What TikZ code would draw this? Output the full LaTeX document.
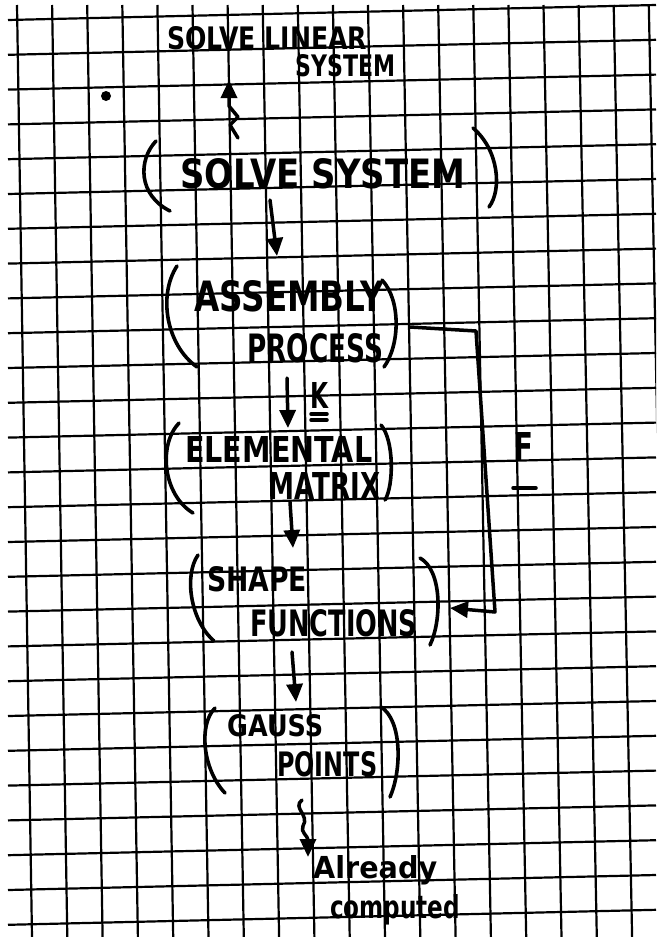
\documentclass[tikz,border=0pt]{standalone}
\usepackage{fontspec}
\setmainfont{DejaVu Sans}
\usetikzlibrary{arrows.meta}
\newcommand{\hw}[3]{\resizebox{#1pt}{#2pt}{\bfseries #3}}
\begin{document}
\begin{tikzpicture}[x=1pt,y=-1pt,
  gridline/.style={line width=2.2pt, black},
  pen/.style={line width=3.5pt, line cap=round, line join=round},
  paren/.style={line width=3.6pt, line cap=round},
  arr/.style={pen, -{Triangle[length=18pt,width=16pt]}},
  lbl/.style={inner sep=0pt, anchor=south west}]
\useasboundingbox (0,0) rectangle (656,937);
\fill[white] (0,0) rectangle (656,937);
% grid paper
\begin{scope}
\clip (0,0) rectangle (656,937);
\foreach \k in {0,...,27} \draw[gridline] (8,{20+34.8*\k}) -- (656,{5+34.8*\k});
\foreach \j in {0,...,18} \draw[gridline] ({17+35.1*\j},5) -- ({32+35.3*\j},937);
\end{scope}
% stray dot
\fill (106,96) circle (5);
% labels
\node[lbl] (lin1) at (167,50) {\hw{200}{23}{SOLVE LINEAR}};
\node[lbl] (lin2) at (295,77) {\hw{100}{22}{SYSTEM}};
\node[lbl] (ss) at (180,189) {\hw{285}{30}{SOLVE SYSTEM}};
\node[lbl] (ap1) at (194,312) {\hw{190}{31}{ASSEMBLY}};
\node[lbl] (ap2) at (247,363) {\hw{136}{29}{PROCESS}};
\node[lbl] (em1) at (185,463) {\hw{187}{26}{ELEMENTAL}};
\node[lbl] (em2) at (268,500) {\hw{112}{27}{MATRIX}};
\node[lbl] (sf1) at (207,592) {\hw{100}{25}{SHAPE}};
\node[lbl] (sf2) at (250,637) {\hw{167}{27}{FUNCTIONS}};
\node[lbl] (gp1) at (227,737) {\hw{96}{22}{GAUSS}};
\node[lbl] (gp2) at (277,777) {\hw{100}{25}{POINTS}};
\node[lbl] (ac1) at (313,885) {\hw{124}{23}{Already}};
\node[lbl] (ac2) at (330,925) {\hw{130}{24}{computed}};
\node[lbl] (klab) at (310,409) {\hw{18}{26}{K}};
\draw[pen] (311,414) -- (327,414);
\draw[pen] (311,420) -- (327,420);
\node[lbl] (flab) at (513,462) {\hw{20}{29}{F}};
\draw[pen] (513,488) -- (536,488);
% parentheses
\draw[paren] (156,141) .. controls (138,160) and (138,195) .. (170,211);
\draw[paren] (473,128) .. controls (499,150) and (502,190) .. (489,207);
\draw[paren] (177,266) .. controls (158,295) and (166,345) .. (197,367);
\draw[paren] (382,280) .. controls (401,300) and (400,345) .. (384,367);
\draw[paren] (179,423) .. controls (158,445) and (163,495) .. (193,513);
\draw[paren] (381,425) .. controls (394,440) and (394,485) .. (385,500);
\draw[paren] (198,555) .. controls (184,575) and (190,620) .. (214,641);
\draw[paren] (420,558) .. controls (442,570) and (442,620) .. (430,645);
\draw[paren] (215,708) .. controls (198,725) and (203,770) .. (225,793);
\draw[paren] (381,707) .. controls (402,720) and (402,770) .. (390,797);
% connector end points
\coordinate (ssup) at (238,138);
\coordinate (linin) at (229,80);
\coordinate (ssout) at (270,200);
\coordinate (apin) at (277,256);
\coordinate (apout) at (287,378);
\coordinate (emin) at (288,428);
\coordinate (emout) at (290,502);
\coordinate (sfin) at (293,548);
\coordinate (sfout) at (292,652);
\coordinate (gpin) at (296,702);
\coordinate (gpout) at (302,800);
\coordinate (acin) at (308,857);
\coordinate (apF) at (410,327);
\coordinate (sfF) at (450,608);
% connectors
\draw[arr] (ssup) -- (230,125) -- (238,117) -- (229,106) -- (linin);
\draw[arr] (ssout) -- (apin);
\draw[arr] (apout) -- (emin);
\draw[arr] (emout) -- (sfin);
\draw[arr] (sfout) -- (gpin);
\draw[arr] (gpout) .. controls (292,808) and (310,815) .. (303,826) .. controls (300,832) and (308,836) .. (acin);
\draw[arr] (apF) -- (476,331) -- (495,612) -- (sfF);
\end{tikzpicture}
\end{document}
